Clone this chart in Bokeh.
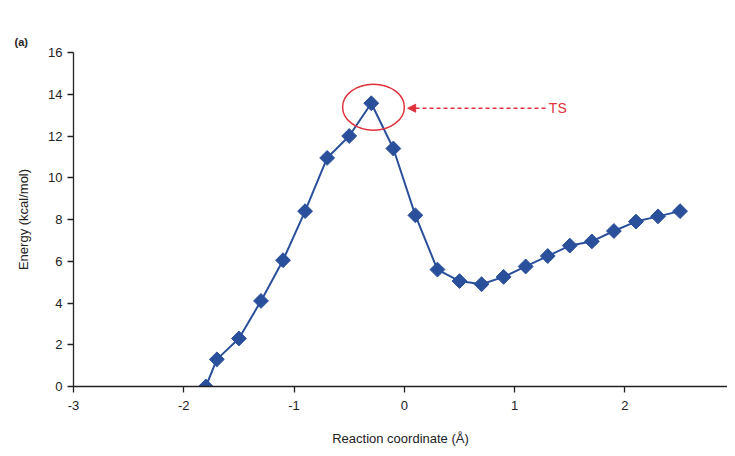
import math
from bokeh.plotting import figure
from bokeh.models import Range1d, Arrow, NormalHead, Label, FixedTicker
from bokeh.embed import file_html
from bokeh.resources import INLINE

# Data
coord = [-1.8, -1.7, -1.5, -1.3, -1.1, -0.9, -0.7, -0.5, -0.3, -0.1, 0.1, 0.3,
         0.5, 0.7, 0.9, 1.1, 1.3, 1.5, 1.7, 1.9, 2.1, 2.3, 2.5]
energy = [0.0, 1.3, 2.3, 4.1, 6.05, 8.4, 10.95, 12.0, 13.57, 11.4, 8.2, 5.6,
          5.05, 4.9, 5.25, 5.75, 6.25, 6.75, 6.95, 7.45, 7.9, 8.15, 8.4]
x_ticks = [-3, -2, -1, 0, 1, 2, 3]
y_ticks = [0, 2, 4, 6, 8, 10, 12, 14, 16]
ts_label = "TS"
panel_label = "(a)"

FONT = "Liberation Sans"
BLUE = "#2a509c"
RED = "#e0303c"

p = figure(width=727, height=448, output_backend="svg", toolbar_location=None,
           x_range=Range1d(-3, 2.93), y_range=Range1d(0, 16),
           min_border_left=73, min_border_right=0, min_border_top=52,
           min_border_bottom=60)
p.outline_line_color = None
p.grid.visible = False
p.background_fill_color = "white"
p.border_fill_color = "white"

p.title.text = panel_label
p.title.text_font = FONT
p.title.text_font_size = "11px"
p.title.text_font_style = "bold"
p.title.text_color = "#222222"
p.title.offset = -59

for ax in (p.xaxis[0], p.yaxis[0]):
    ax.axis_line_color = "#222222"
    ax.axis_line_width = 1.3
    ax.major_tick_line_color = "#222222"
    ax.major_tick_line_width = 1.3
    ax.major_tick_out = 6
    ax.major_tick_in = 0
    ax.minor_tick_line_color = None
    ax.major_label_text_font = FONT
    ax.major_label_text_font_size = "13px"
    ax.major_label_text_color = "#222222"
    ax.axis_label_text_font = FONT
    ax.axis_label_text_font_size = "13px"
    ax.axis_label_text_font_style = "normal"
    ax.axis_label_text_color = "#222222"

p.xaxis.ticker = FixedTicker(ticks=x_ticks)
p.yaxis.ticker = FixedTicker(ticks=y_ticks)
p.xaxis.major_label_overrides = {t: str(t) for t in x_ticks}
p.xaxis.axis_label = "Reaction coordinate (Å)"
p.yaxis.axis_label = "Energy (kcal/mol)"
p.xaxis.major_label_standoff = 8
p.yaxis.major_label_standoff = 5
p.xaxis.axis_label_standoff = 18
p.yaxis.axis_label_standoff = 14

p.line(coord, energy, line_color=BLUE, line_width=2)
p.scatter(coord, energy, marker="square", size=10.5, angle=math.pi / 4,
          fill_color=BLUE, line_color=BLUE)

# TS annotation
p.ellipse(x=-0.28, y=13.38, width=0.56, height=2.2, fill_color=None,
          line_color=RED, line_width=1.5)
p.add_layout(Arrow(end=NormalHead(size=8, fill_color=RED, line_color=RED),
                   x_start=1.28, y_start=13.33, x_end=0.03, y_end=13.33,
                   line_color=RED, line_width=1.3, line_dash="4 3"))
p.add_layout(Label(x=1.31, y=13.33, text=ts_label, text_font=FONT,
                   text_font_size="14px", text_color=RED,
                   text_baseline="middle"))

open("out.html", "w").write(file_html(p, INLINE))
